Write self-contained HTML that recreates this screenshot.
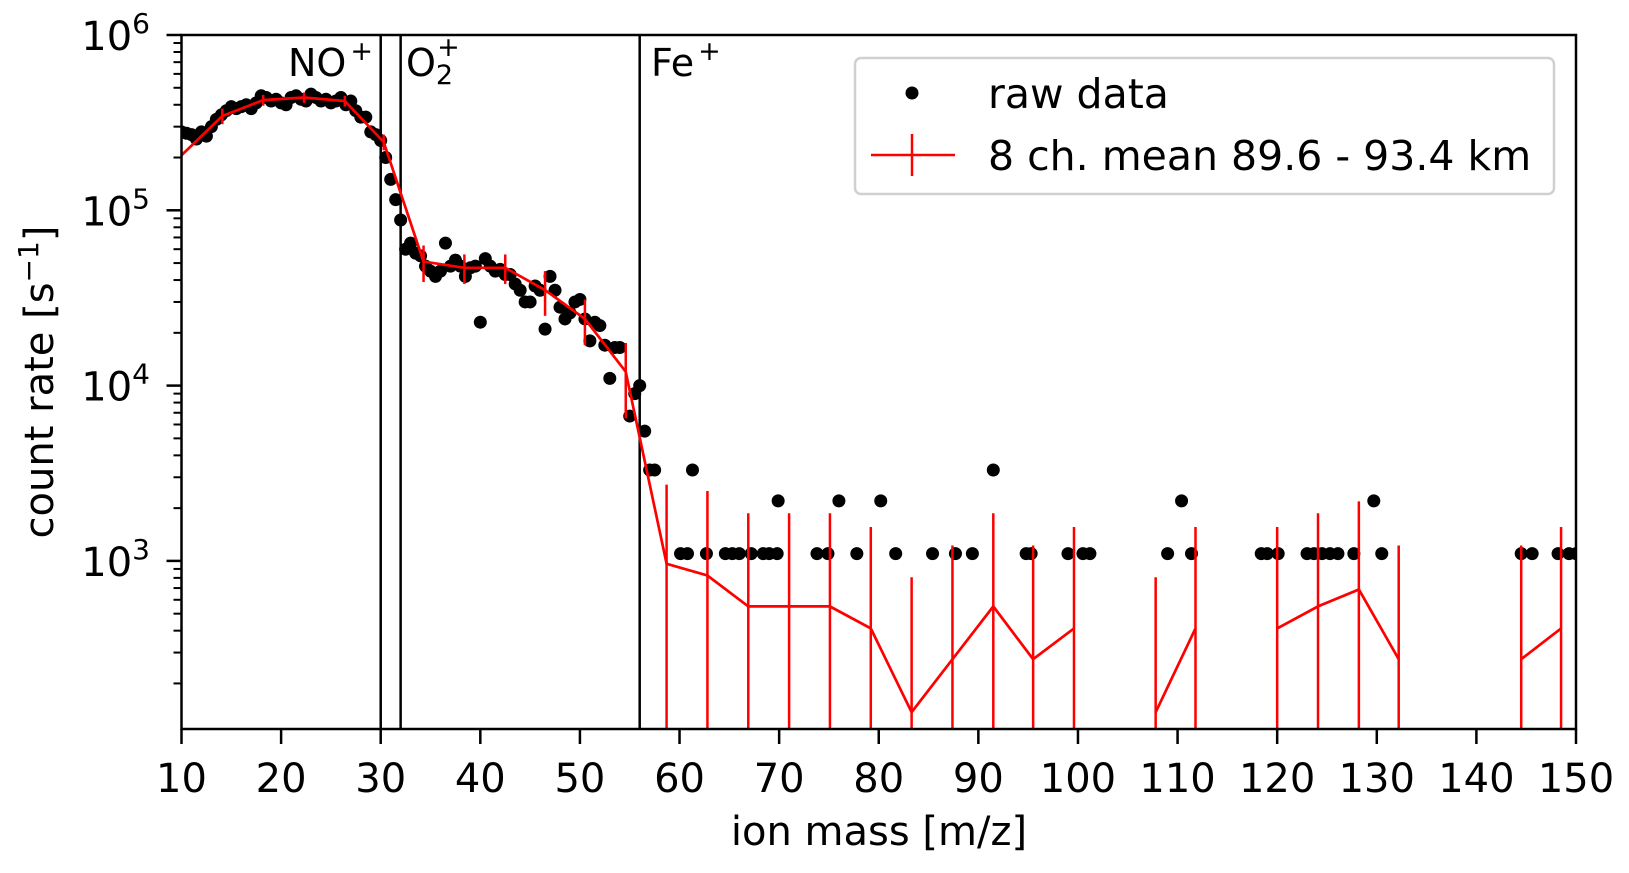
<!DOCTYPE html>
<html><head><meta charset="utf-8">
<style>
html,body{margin:0;padding:0;background:#fff;}
svg{display:block;font-family:"DejaVu Sans","Liberation Sans",sans-serif;}
</style></head>
<body>
<svg id="chart" width="1629" height="873" viewBox="0 0 1629 873"></svg>
<script>
// ---- data ----
const rawMass = [10,10.5,11,11.5,12,12.5,13,13.5,14,14.5,15,15.5,16,16.5,17,17.5,18,18.5,19,19.5,20,20.5,21,21.5,22,22.5,23,23.5,24,24.5,25,25.5,26,26.5,27,27.5,28,28.5,29,29.5,30,30.5,31,31.5,32,32.5,33,33.5,34,34.5,35,35.5,36,36.5,37,37.5,38,38.5,39,39.5,40,40.5,41,41.5,42,42.5,43,43.5,44,44.5,45,45.5,46,46.5,47,47.5,48,48.5,49,49.5,50,50.5,51,51.5,52,52.5,53,53.5,54,55,55.5,56,56.5,57,57.5,61.3,91.5,69.9,76,80.2,110.4,129.7,
60.1,60.8,62.7,64.6,65.3,66,67.2,68.4,69,69.8,73.8,74.9,77.8,81.7,85.4,87.7,89.4,94.8,95.3,99,100.5,101.2,109,111.4,118.4,119,120.1,123,123.7,124.5,125.3,126.1,127.7,130.5,144.5,145.6,148.2,149.3,150];
const rawRate = [280e3,275e3,270e3,255e3,280e3,265e3,300e3,330e3,350e3,370e3,390e3,380e3,390e3,400e3,380e3,410e3,450e3,440e3,420e3,430e3,410e3,400e3,440e3,450e3,430e3,420e3,460e3,440e3,420e3,430e3,410e3,420e3,440e3,400e3,420e3,370e3,340e3,340e3,280e3,270e3,250e3,200e3,150e3,115e3,88e3,60e3,65e3,57e3,55e3,48e3,45e3,42e3,45e3,65e3,48e3,52e3,48e3,42e3,47e3,48e3,23e3,53e3,48e3,45e3,46e3,43e3,43e3,38e3,35e3,30e3,30e3,37e3,35e3,21e3,42e3,35e3,28e3,24e3,26e3,30e3,31e3,24e3,18e3,23e3,22e3,17e3,11e3,16.5e3,16.5e3,6.7e3,9e3,10e3,5.5e3,3300,3300,3300,3300,2200,2200,2200,2200,2200,
1100,1100,1100,1100,1100,1100,1100,1100,1100,1100,1100,1100,1100,1100,1100,1100,1100,1100,1100,1100,1100,1100,1100,1100,1100,1100,1100,1100,1100,1100,1100,1100,1100,1100,1100,1100,1100,1100,1100];
// mean series (null = gap)
const meanMass = [10,14.1,18.2,22.3,26.4,30.3,34.3,38.4,42.5,46.5,50.5,54.6,58.7,62.8,66.9,71,75.1,79.2,83.3,87.4,91.5,95.5,99.6,103.7,107.8,111.8,115.9,120,124.1,128.2,132.2,136.3,140.4,144.5,148.5];
const meanRate = [206e3,345e3,425e3,440e3,420e3,245e3,51e3,47e3,47e3,35e3,24e3,12e3,962,825,550,550,550,412,137,275,550,275,412,null,137,412,null,412,550,687,275,null,null,275,412];
const meanErr  = [0,35e3,30e3,30e3,30e3,25e3,12e3,9e3,9e3,10e3,7e3,5.5e3,1760,1680,1320,1320,1320,1150,670,950,1320,950,1150,null,670,1150,null,1150,1320,1500,950,null,null,950,1150];
const xTicks = [10,20,30,40,50,60,70,80,90,100,110,120,130,140,150];
const yTicksExp = [3,4,5,6];
const ionLines = [30,32,56];

// ---- axes ----
const X0=181.5, X1=1576, YT=35, YB=729, XMIN=10, XMAX=150, DEC=175.3;
const sx = m => X0 + (m-XMIN)*(X1-X0)/(XMAX-XMIN);
const sy = v => YT + (6-Math.log10(v))*DEC;
const YMIN = Math.pow(10, 6-(YB-YT)/DEC);
const NS="http://www.w3.org/2000/svg";
const svg=document.getElementById('chart');
function mk(tag, attrs, parent){const e=document.createElementNS(NS,tag);for(const k in attrs)e.setAttribute(k,attrs[k]);(parent||svg).appendChild(e);return e;}

const defs=mk('defs',{});
const cp=mk('clipPath',{id:'plotclip'},defs);
mk('rect',{x:X0,y:YT,width:X1-X0,height:YB-YT},cp);

ionLines.forEach(m=>{
  const l=mk('line',{x1:sx(m),x2:sx(m),y1:YT,y2:YB,stroke:'#000','stroke-width':2.5});
  
  
});

const plot=mk('g',{'clip-path':'url(#plotclip)'});



rawMass.forEach((m,i)=>{
  const c=mk('circle',{cx:sx(m),cy:sy(rawRate[i]),r:6.5,fill:'#000'},plot);
  
  
});

let path='', pen=false;
meanMass.forEach((m,i)=>{
  const v=meanRate[i];
  if(v===null){pen=false;return;}
  path += (pen?'L':'M')+sx(m).toFixed(1)+' '+sy(v).toFixed(1)+' ';
  pen=true;
});
const ml=mk('path',{d:path,fill:'none',stroke:'#ff0000','stroke-width':2.7,'stroke-linejoin':'miter'},plot);


meanMass.forEach((m,i)=>{
  const v=meanRate[i], e=meanErr[i];
  if(v===null||!e) return;
  const lo=v-e>YMIN? sy(v-e):YB+5, hi=sy(v+e);
  const b=mk('line',{x1:sx(m),x2:sx(m),y1:hi,y2:lo,stroke:'#ff0000','stroke-width':2.5},plot);
  
  
});

const fr=mk('rect',{x:X0,y:YT,width:X1-X0,height:YB-YT,fill:'none',stroke:'#000','stroke-width':2.5});



xTicks.forEach(t=>{
  const x=sx(t);
  mk('line',{x1:x,x2:x,y1:YB,y2:YB+15,stroke:'#000','stroke-width':2.5});
  const tx=mk('text',{x:x,y:792,'font-size':40,'text-anchor':'middle'});
  tx.textContent=t;
  
  
});
yTicksExp.forEach(p=>{
  const y=sy(Math.pow(10,p));
  mk('line',{x1:X0-15,x2:X0,y1:y,y2:y,stroke:'#000','stroke-width':2.5});
  const tx=mk('text',{x:150,y:y+15,'font-size':40,'text-anchor':'end'});
  
  
  const a=mk('tspan',{},tx); a.textContent='10';
  const b=mk('tspan',{dy:-17,'font-size':28},tx); b.textContent=String(p);
});
for(let p=2;p<6;p++){for(let k=2;k<10;k++){const v=k*Math.pow(10,p);if(v<YMIN)continue;const y=sy(v);
  mk('line',{x1:X0-8,x2:X0,y1:y,y2:y,stroke:'#000','stroke-width':2});}}

const xl=mk('text',{x:879,y:845,'font-size':40,'text-anchor':'middle'});
xl.textContent='ion mass [m/z]';


const yl=mk('text',{x:0,y:0,'font-size':40,'text-anchor':'middle',transform:'translate(53,382) rotate(-90)'});


const y1=mk('tspan',{},yl); y1.textContent='count rate [s';
const y2=mk('tspan',{dy:-15,'font-size':28},yl); y2.textContent='\u22121';
const y3=mk('tspan',{dy:15},yl); y3.textContent=']';

function ann(x,base,sub,name){
  const t=mk('text',{x:x,y:76,'font-size':38});
  
  
  const a=mk('tspan',{},t); a.textContent=base;
  if(sub){const s=mk('tspan',{dy:8,'font-size':27},t); s.textContent=sub;
    const p=mk('tspan',{dx:-16,dy:-28,'font-size':27},t); p.textContent='+';}
  else {const p=mk('tspan',{dx:4,dy:-16,'font-size':27},t); p.textContent='+';}
}
ann(288,'NO',null,'no-plus-label');
ann(406,'O','2','o2-plus-label');
ann(651,'Fe',null,'fe-plus-label');

const lg=mk('g',{});


mk('rect',{x:855,y:58,width:699,height:136,rx:6,fill:'#fff','fill-opacity':0.8,stroke:'#d0d0d0','stroke-width':2.5},lg);
mk('circle',{cx:912,cy:93,r:6.5,fill:'#000'},lg);
mk('line',{x1:871,x2:955,y1:155,y2:155,stroke:'#ff0000','stroke-width':2.5},lg);
mk('line',{x1:912,x2:912,y1:134,y2:176,stroke:'#ff0000','stroke-width':2.5},lg);
const l1=mk('text',{x:988,y:108,'font-size':41},lg); l1.textContent='raw data';


const l2=mk('text',{x:988,y:170,'font-size':41},lg); l2.textContent='8 ch. mean 89.6 - 93.4 km';


</script>
</body></html>
